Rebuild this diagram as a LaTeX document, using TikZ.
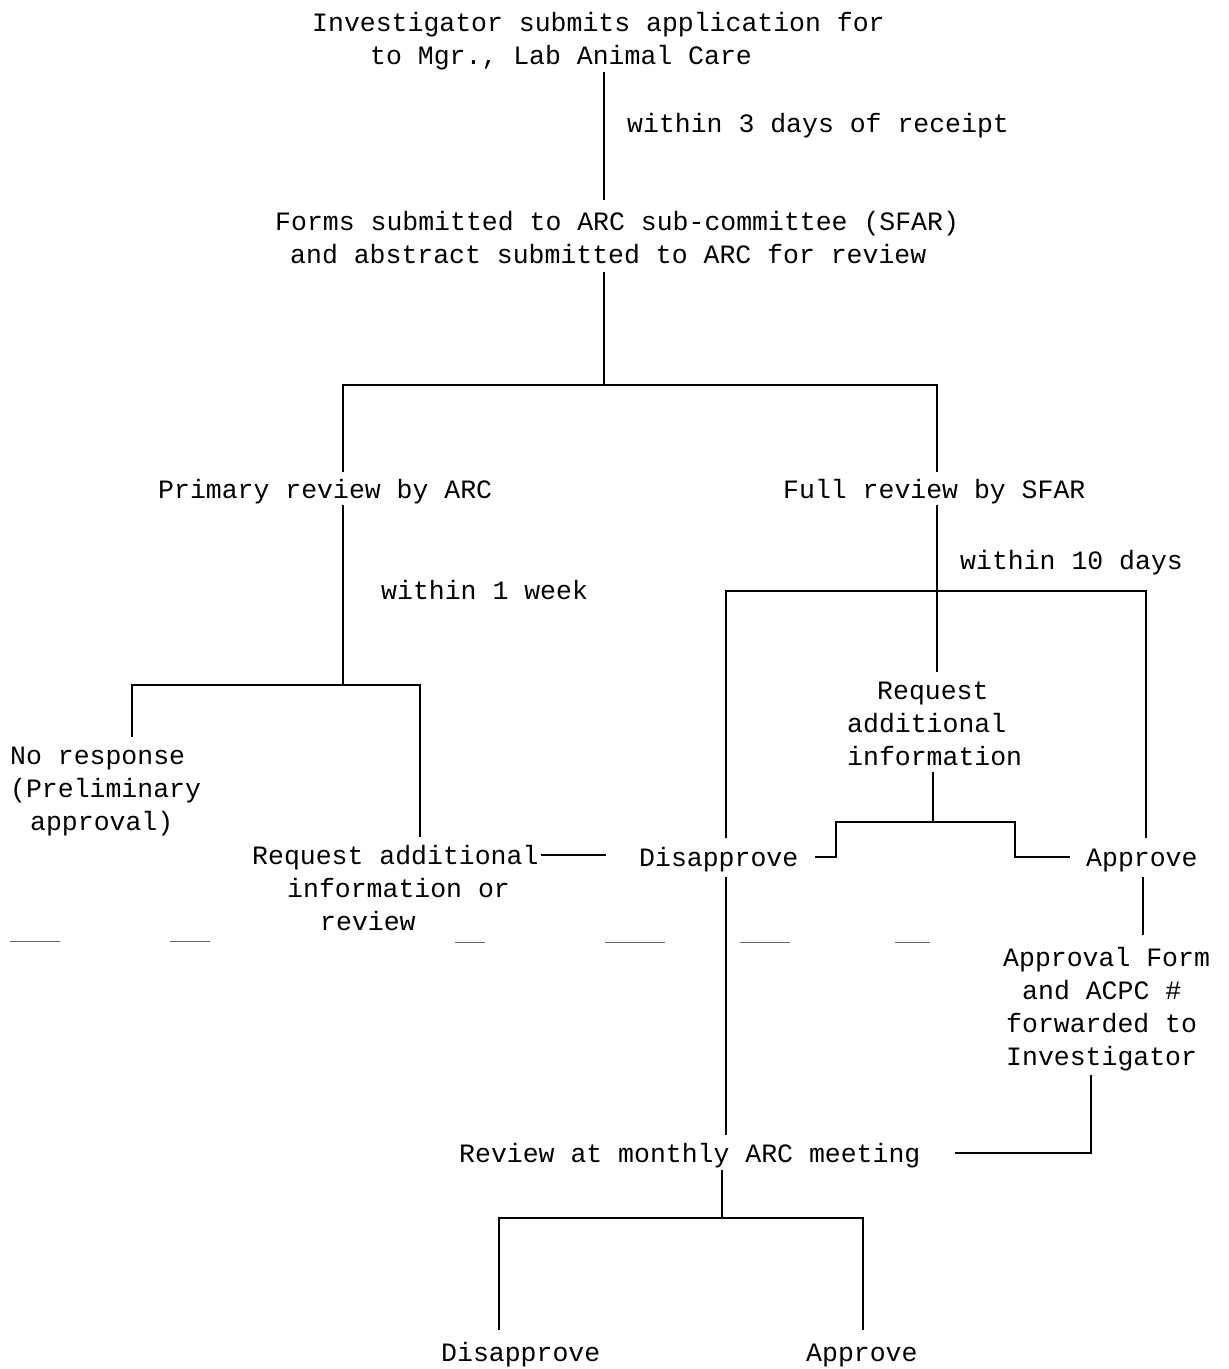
\documentclass[tikz,border=0pt]{standalone}
\usepackage{fontspec}
\setmonofont{Liberation Mono}
\begin{document}
\begin{tikzpicture}[x=1pt,y=-1pt,
  lbl/.style={font=\ttfamily\fontsize{26.5}{33}\selectfont, inner sep=0pt, anchor=north west, align=left},
  conn/.style={line width=2.6pt},
  fold/.style={line width=1pt, black!60}]
\useasboundingbox (0,0) rectangle (1229,1369);
% texts
\node[lbl] (top) at (312,8) {\strut Investigator submits application for\\\hspace*{58pt}to Mgr., Lab Animal Care};
\node[lbl] (within3) at (627,109) {\strut within 3 days of receipt};
\node[lbl] (forms) at (275,207) {\strut Forms submitted to ARC sub-committee (SFAR)\\\hspace*{15pt}and abstract submitted to ARC for review};
\node[lbl] (primary) at (158,475) {\strut Primary review by ARC};
\node[lbl] (full) at (783,475) {\strut Full review by SFAR};
\node[lbl] (within10) at (960,546) {\strut within 10 days};
\node[lbl] (within1) at (381,576) {\strut within 1 week};
\node[lbl] (reqR) at (847,676) {\hspace*{30pt}\strut Request\\additional\\information};
\node[lbl] (noresp) at (10,741) {\strut No response\\(Preliminary\\\hspace*{20pt}approval)};
\node[lbl] (reqL) at (252,841) {\strut Request additional\\\hspace*{35pt}information or\\\hspace*{68pt}review};
\node[lbl] (disM) at (639,843) {\strut Disapprove};
\node[lbl] (appM) at (1086,843) {\strut Approve};
\node[lbl] (form) at (1003,943) {\strut Approval Form\\\hspace*{19pt}and ACPC \#\\\hspace*{3pt}forwarded to\\\hspace*{3pt}Investigator};
\node[lbl] (review) at (459,1139) {\strut Review at monthly ARC meeting};
\node[lbl] (disB) at (441,1338) {\strut Disapprove};
\node[lbl] (appB) at (806,1338) {\strut Approve};
% junction coordinates
\coordinate (a1) at (604,72);
\coordinate (a2) at (604,200);
\coordinate (b1) at (604,272);
\coordinate (b2) at (604,385);
\coordinate (bL) at (343,385);
\coordinate (bR) at (937,385);
\coordinate (bLe) at (343,472);
\coordinate (bRe) at (937,472);
\coordinate (c1) at (343,505);
\coordinate (c2) at (343,685);
\coordinate (cL) at (132,685);
\coordinate (cR) at (420,685);
\coordinate (cLe) at (132,737);
\coordinate (cRe) at (420,837);
\coordinate (d1) at (541,855);
\coordinate (d2) at (606,855);
\coordinate (e1) at (937,505);
\coordinate (e2) at (937,672);
\coordinate (eL) at (726,591);
\coordinate (eR) at (1146,591);
\coordinate (eLe) at (726,838);
\coordinate (eRe) at (1146,838);
\coordinate (f1) at (933,772);
\coordinate (f2) at (933,822);
\coordinate (fL) at (836,822);
\coordinate (fR) at (1015,822);
\coordinate (fLe) at (815,857);
\coordinate (fRe) at (1070,857);
\coordinate (g1) at (1143,877);
\coordinate (g2) at (1143,935);
\coordinate (h1) at (1091,1075);
\coordinate (h2) at (955,1153);
\coordinate (i1) at (726,877);
\coordinate (i2) at (726,1135);
\coordinate (j1) at (722,1170);
\coordinate (j2) at (722,1218);
\coordinate (jL) at (499,1218);
\coordinate (jR) at (863,1218);
\coordinate (jLe) at (499,1330);
\coordinate (jRe) at (863,1330);
% connectors
\draw[conn] (a1) -- (a2);
\draw[conn] (b1) -- (b2);
\draw[conn] (bLe) -- (bL) -- (bR) -- (bRe);
\draw[conn] (c1) -- (c2);
\draw[conn] (cLe) -- (cL) -- (cR) -- (cRe);
\draw[conn] (d1) -- (d2);
\draw[conn] (e1) -- (e2);
\draw[conn] (eLe) -- (eL) -- (eR) -- (eRe);
\draw[conn] (f1) -- (f2);
\draw[conn] (fLe) -| (fL) -- (fR) |- (fRe);
\draw[conn] (g1) -- (g2);
\draw[conn] (h1) |- (h2);
\draw[conn] (i1) -- (i2);
\draw[conn] (j1) -- (j2);
\draw[conn] (jLe) -- (jL) -- (jR) -- (jRe);
% fold marks
\draw[fold] (10,941) -- (60,941);
\draw[fold] (170,941) -- (210,941);
\draw[fold] (455,942) -- (485,942);
\draw[fold] (605,942) -- (665,942);
\draw[fold] (740,942) -- (790,942);
\draw[fold] (895,942) -- (930,942);
\end{tikzpicture}
\end{document}
